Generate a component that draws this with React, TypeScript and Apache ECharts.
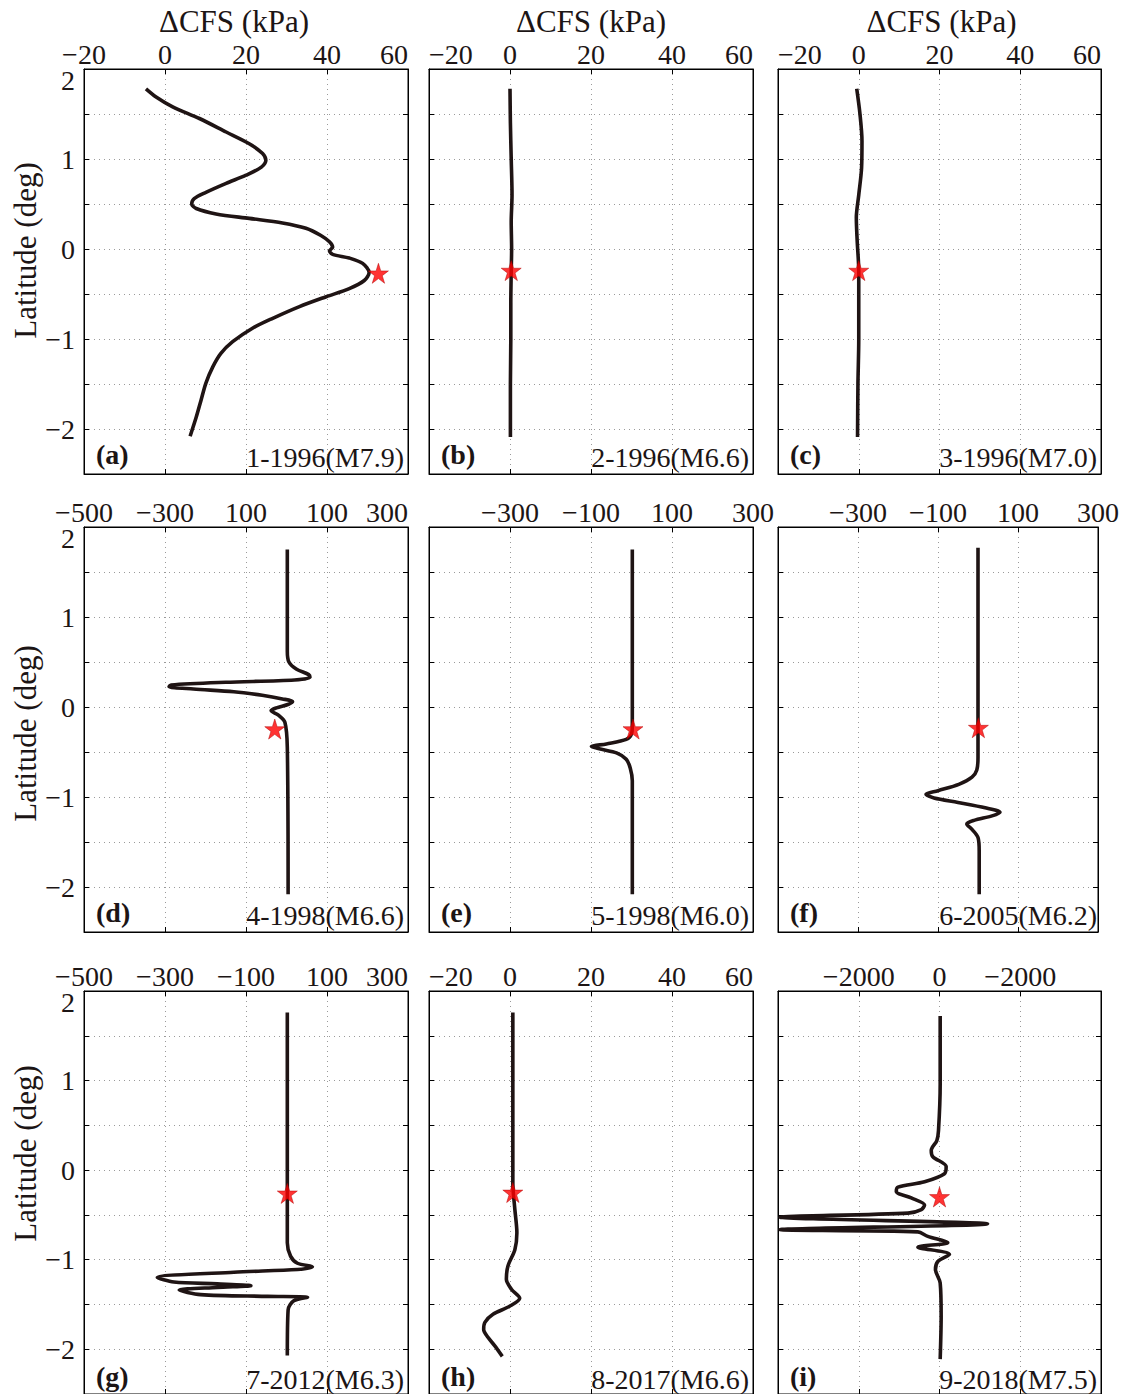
import React, { useEffect, useRef } from "react";
import * as echarts from "echarts";

const FONT = '"Liberation Serif", "Times New Roman", serif';
const INK = "#1c1515";
const CURVE = "#1f1414";

// ---- Latitude (deg) / ΔCFS (kPa) profiles ----
const latA = [1.78, 1.69, 1.58, 1.45, 1.30, 1.17, 1.06, 0.985, 0.91, 0.82, 0.73, 0.63, 0.56, 0.50, 0.45, 0.39, 0.34, 0.29, 0.23, 0.15, 0.08, 0.02, -0.02, -0.06, -0.10, -0.16, -0.26, -0.35, -0.44, -0.53, -0.64, -0.77, -0.88, -1.03, -1.16, -1.31, -1.49, -1.68, -1.87, -2.08];
const cfsA = [-4.7, -2.2, 1.9, 8.5, 15.1, 20.8, 24.1, 24.9, 23.8, 20.0, 15.1, 10.1, 7.2, 6.6, 7.7, 12.6, 20.8, 29.0, 34.8, 38.5, 40.6, 41.4, 40.6, 41.4, 45.5, 48.8, 50.4, 49.2, 45.5, 39.8, 33.2, 26.6, 21.6, 16.7, 13.8, 11.8, 10.1, 8.9, 7.7, 6.2];
const starA = [52.7, -0.27];

const latB = [1.78, 1.4, 1.0, 0.6, 0.3, 0.0, -0.25, -0.6, -1.0, -1.5, -2.09];
const cfsB = [0.0, 0.1, 0.3, 0.5, 0.3, 0.4, 0.3, 0.2, 0.2, 0.1, 0.1];
const starB = [0.3, -0.24];

const latC = [1.78, 1.5, 1.2, 0.9, 0.6, 0.35, 0.1, -0.25, -1.0, -1.5, -2.09];
const cfsC = [-0.5, 0.3, 0.8, 0.7, 0.0, -0.6, -0.4, 0.0, 0.0, -0.2, -0.3];
const starC = [0.0, -0.24];

const latD = [1.75, 0.62, 0.50, 0.42, 0.36, 0.33, 0.30, 0.275, 0.245, 0.225, 0.20, 0.17, 0.13, 0.09, 0.06, 0.03, -0.01, -0.04, -0.09, -0.17, -0.45, -2.08];
const cfsD = [2, 2, 6, 25, 55, 58, 20, -150, -285, -290, -230, -130, -60, -10, 15, 5, -25, -38, -20, -4, 2, 4];
const starD = [-29, -0.245];

const latE = [1.75, -0.20, -0.30, -0.36, -0.41, -0.44, -0.47, -0.51, -0.58, -0.68, -0.82, -2.08];
const cfsE = [2, 2, 0, -13, -62, -99, -74, -37, -13, -3, 2, 2];
const starE = [3.7, -0.245];

const latF = [1.77, -0.56, -0.70, -0.78, -0.86, -0.93, -0.97, -1.01, -1.06, -1.12, -1.17, -1.21, -1.26, -1.30, -1.36, -1.45, -1.6, -2.08];
const cfsF = [0, 0, -3, -15, -48, -100, -130, -110, -50, 18, 55, 35, -10, -28, -15, 0, 3, 3];
const starF = [1, -0.23];

const latG = [1.76, -0.81, -0.96, -1.04, -1.08, -1.11, -1.14, -1.20, -1.25, -1.27, -1.29, -1.31, -1.34, -1.39, -1.41, -1.42, -1.46, -1.56, -2.07];
const cfsG = [2, 2, 10, 27, 64, 27, -130, -319, -278, -171, -88, -171, -265, -212, -47, 52, 18, 4, 2];
const starG = [2, -0.26];

const latH = [1.76, -0.15, -0.44, -0.70, -0.89, -1.07, -1.22, -1.33, -1.43, -1.52, -1.61, -1.70, -1.78, -1.87, -1.96, -2.08];
const cfsH = [0.7, 0.7, 1.2, 1.7, 1.2, -0.5, -0.9, 0.35, 2.4, -0.1, -4.2, -6.2, -6.5, -5.4, -3.8, -1.9];
const starH = [0.7, -0.25];

const latI = [1.72, 0.96, 0.44, 0.33, 0.22, 0.15, 0.04, -0.04, -0.13, -0.19, -0.24, -0.31, -0.39, -0.44, -0.48, -0.525, -0.60, -0.665, -0.69, -0.74, -0.81, -0.86, -0.94, -1.02, -1.11, -1.26, -1.63, -2.11];
const cfsI = [17, 17, -25, -66, -205, -165, 165, 123, -370, -1030, -1070, -700, -370, -450, -780, -3950, 1190, -3950, -535, -290, 205, -535, 247, -42, -100, 17, 41, 17];
const starI = [0, -0.30];

// ---- tick values and labels ----
const yTicks = [-2, -1, 0, 1, 2];
const yLabels = ["−2", "−1", "0", "1", "2"];

const xTicks20 = [-20, 0, 20, 40, 60];
const xLabels20 = ["−20", "0", "20", "40", "60"];
const xTicks500 = [-500, -300, -100, 100, 300];
const xLabelsD = ["−500", "−300", "100", "100", "300"];
const xLabelsEF = ["", "−300", "−100", "100", "300"];
const xLabelsG = ["−500", "−300", "−100", "100", "300"];
const xTicks4000 = [-4000, -2000, 0, 2000, 4000];
const xLabelsI = ["", "−2000", "0", "−2000", ""];

const panelTags = ["(a)", "(b)", "(c)", "(d)", "(e)", "(f)", "(g)", "(h)", "(i)"];
const eventNames = ["1-1996(M7.9)", "2-1996(M6.6)", "3-1996(M7.0)", "4-1998(M6.6)", "5-1998(M6.0)", "6-2005(M6.2)", "7-2012(M6.3)", "8-2017(M6.6)", "9-2018(M7.5)"];

const xTitle = "ΔCFS (kPa)";
const yTitle = "Latitude (deg)";

const STAR = "path://M50,2 L61.2,36.3 L97.6,36.3 L68.2,57.7 L79.4,92 L50,70.8 L20.6,92 L31.8,57.7 L2.4,36.3 L38.8,36.3 Z";

const panels = [
  { lat: latA, cfs: cfsA, star: starA, ticks: xTicks20, labels: xLabels20, minAlign: undefined, maxAlign: "right", titlePad: [0, 24, 0, 0] },
  { lat: latB, cfs: cfsB, star: starB, ticks: xTicks20, labels: xLabels20, minAlign: "left", maxAlign: "right", titlePad: [0, 0, 0, 0] },
  { lat: latC, cfs: cfsC, star: starC, ticks: xTicks20, labels: xLabels20, minAlign: "left", maxAlign: "right", titlePad: [0, 0, 0, 4] },
  { lat: latD, cfs: cfsD, star: starD, ticks: xTicks500, labels: xLabelsD, minAlign: undefined, maxAlign: "right" },
  { lat: latE, cfs: cfsE, star: starE, ticks: xTicks500, labels: xLabelsEF, minAlign: undefined, maxAlign: undefined },
  { lat: latF, cfs: cfsF, star: starF, ticks: xTicks500, labels: xLabelsEF, minAlign: undefined, maxAlign: undefined },
  { lat: latG, cfs: cfsG, star: starG, ticks: xTicks500, labels: xLabelsG, minAlign: undefined, maxAlign: "right" },
  { lat: latH, cfs: cfsH, star: starH, ticks: xTicks20, labels: xLabels20, minAlign: "left", maxAlign: "right" },
  { lat: latI, cfs: cfsI, star: starI, ticks: xTicks4000, labels: xLabelsI, minAlign: undefined, maxAlign: undefined },
];

const colLeft = [84, 429, 778];
const colWidth = [324, 324, 323];
const rowTop = [69, 527, 991];
const rowHeight = 405;
const yNamePad = [[0, 0, 0, 42], [0, 8, 0, 0], [0, 0, 0, 78]];

function labelFor(ticks: number[], labels: string[], v: number): string {
  for (let k = 0; k < ticks.length; k++) {
    if (Math.abs(ticks[k] - v) < 1e-6) return labels[k];
  }
  return "";
}

function buildOption() {
  const grid: any[] = [];
  const xAxis: any[] = [];
  const yAxis: any[] = [];
  const series: any[] = [];
  const graphic: any[] = [];
  const dotted = { color: "#9a9a9a", width: 1, type: [1, 4] };
  const tick = { show: true, inside: true, length: 5, lineStyle: { color: "#000", width: 1 } };
  const axisLine = { show: true, onZero: false, lineStyle: { color: "#000", width: 1 } };

  panels.forEach((p, i) => {
    const r = Math.floor(i / 3);
    const c = i % 3;
    const left = colLeft[c];
    const top = rowTop[r];
    const width = colWidth[c];
    const xmin = p.ticks[0];
    const xmax = p.ticks[p.ticks.length - 1];
    const interval = p.ticks[1] - p.ticks[0];

    grid.push({ left, top, width, height: rowHeight, show: true, borderColor: "#000", borderWidth: 1, backgroundColor: "transparent", containLabel: false });

    xAxis.push({
      gridIndex: i, type: "value", position: "top", min: xmin, max: xmax, interval,
      axisLine, axisTick: tick,
      axisLabel: {
        show: true, fontFamily: FONT, fontSize: 28, lineHeight: 22, color: INK, margin: 4,
        showMinLabel: true, showMaxLabel: true, hideOverlap: false,
        alignMinLabel: p.minAlign, alignMaxLabel: p.maxAlign,
        formatter: (v: number) => labelFor(p.ticks, p.labels, v),
      },
      splitLine: { show: true, lineStyle: dotted },
      name: r === 0 ? xTitle : "",
      nameLocation: "middle", nameGap: 32,
      nameTextStyle: { fontFamily: FONT, fontSize: 31, color: INK, padding: (p as any).titlePad || [0, 0, 0, 0] },
    });
    xAxis.push({
      gridIndex: i, type: "value", position: "bottom", min: xmin, max: xmax, interval,
      axisLine, axisTick: tick, axisLabel: { show: false }, splitLine: { show: false },
    });
    yAxis.push({
      gridIndex: i, type: "value", position: "left", min: -2.5, max: 2, interval: 0.5,
      axisLine, axisTick: tick,
      axisLabel: {
        show: c === 0, fontFamily: FONT, fontSize: 28, lineHeight: 22, color: INK, margin: 9,
        showMinLabel: true, showMaxLabel: true, hideOverlap: false,
        verticalAlignMaxLabel: "top",
        formatter: (v: number) => labelFor(yTicks, yLabels, v),
      },
      splitLine: { show: true, lineStyle: dotted },
      name: c === 0 ? yTitle : "",
      nameLocation: "middle", nameGap: 38, nameRotate: 90,
      nameTextStyle: { fontFamily: FONT, fontSize: 31, color: INK, padding: yNamePad[r] },
    });
    yAxis.push({
      gridIndex: i, type: "value", position: "right", min: -2.5, max: 2, interval: 0.5,
      axisLine, axisTick: tick, axisLabel: { show: false }, splitLine: { show: false },
    });

    series.push({
      type: "line", xAxisIndex: 2 * i, yAxisIndex: 2 * i,
      data: p.lat.map((lat, k) => [p.cfs[k], lat]),
      symbol: "none", showSymbol: false, smooth: 0.3, clip: true,
      lineStyle: { color: CURVE, width: 3.6 }, z: 3,
    });
    series.push({
      type: "scatter", xAxisIndex: 2 * i, yAxisIndex: 2 * i,
      data: [p.star], symbol: STAR, symbolSize: 20,
      itemStyle: { color: "#ff0000", borderColor: "#b00000", borderWidth: 0.6 }, z: 5,
    });

    const bottom = top + rowHeight;
    graphic.push({
      type: "text", x: left + 12, y: bottom - 20, z: 10,
      style: { text: panelTags[i], fontFamily: FONT, fontSize: 28, fontWeight: "bold", fill: INK, align: "left", verticalAlign: "middle" },
    });
    graphic.push({
      type: "text", x: left + width - 4, y: bottom - 17, z: 10,
      style: { text: eventNames[i], fontFamily: FONT, fontSize: 28, fill: INK, align: "right", verticalAlign: "middle" },
    });
  });

  return { animation: false, backgroundColor: "#ffffff", grid, xAxis, yAxis, series, graphic };
}

export default function App() {
  const ref = useRef<HTMLDivElement>(null);
  useEffect(() => {
    if (!ref.current) return;
    const chart = echarts.init(ref.current, undefined, { renderer: "svg" });
    chart.setOption(buildOption() as any);
    return () => chart.dispose();
  }, []);
  return (
    <div
      ref={ref}
      style={{ position: "absolute", left: 0, top: 0, width: 1122, height: 1394, background: "#fff" }}
    />
  );
}
